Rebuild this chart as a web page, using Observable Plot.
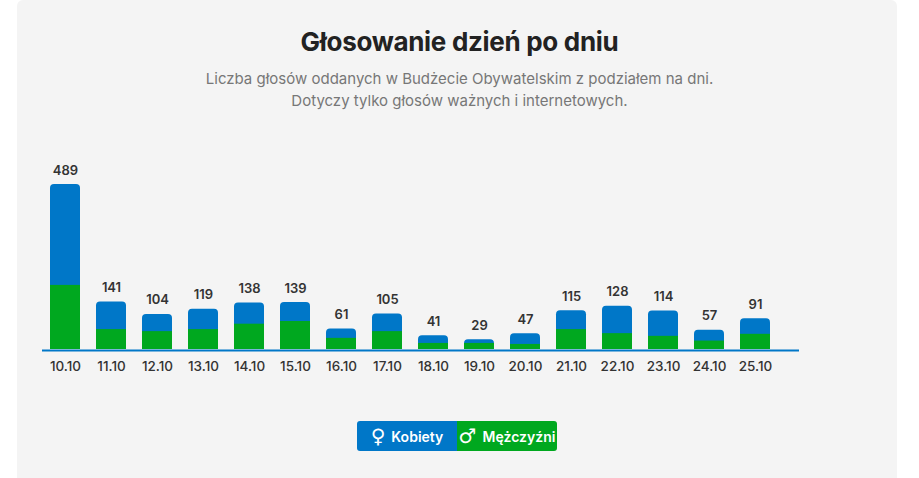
<!DOCTYPE html>
<html>
<head>
<meta charset="utf-8">
<script src="https://cdn.jsdelivr.net/npm/d3@7"></script>
<script src="https://cdn.jsdelivr.net/npm/@observablehq/plot@0.6"></script>
<style>
  html, body { margin: 0; padding: 0; background: #ffffff; }
  body { width: 919px; height: 478px; overflow: hidden; position: relative; font-family: Inter, "Noto Sans", sans-serif; }
  #panel { position: absolute; left: 17px; top: 0; width: 880px; height: 478px; background: #f4f4f4; border-radius: 6px 6px 0 0; }
  #title { position: absolute; left: 0; width: 919px; top: 26px; text-align: center; font-family: Inter, sans-serif; font-weight: 700; font-size: 26px; color: #222; letter-spacing: -0.3px; }
  #sub { position: absolute; left: 0; width: 919px; top: 68px; text-align: center; font-family: Inter, sans-serif; font-size: 15px; line-height: 22px; color: #777; }
  #chart { position: absolute; left: 0; top: 140px; }
  #legend { position: absolute; left: 357px; top: 421px; width: 200px; height: 30px; display: flex; border-radius: 3px; overflow: hidden; font-family: Inter, sans-serif; font-weight: 600; font-size: 14px; color: #fff; }
  #legend div { width: 100px; display: flex; align-items: center; justify-content: center; gap: 6px; }
  #legend .sym { font-family: "DejaVu Sans", sans-serif; font-size: 20px; font-weight: 400; line-height: 1; }
</style>
</head>
<body>
<div id="panel"></div>
<div id="title">Głosowanie dzień po dniu</div>
<div id="sub">Liczba głosów oddanych w Budżecie Obywatelskim z podziałem na dni.<br>Dotyczy tylko głosów ważnych i internetowych.</div>
<div id="chart"></div>
<div id="legend"></div>
<script>
const days = ["10.10","11.10","12.10","13.10","14.10","15.10","16.10","17.10","18.10","19.10","20.10","21.10","22.10","23.10","24.10","25.10"];
const totals = [489,141,104,119,138,139,61,105,41,29,47,115,128,114,57,91];
const men = [190,59,53,59,75,83,33,53,18,18,15,59,47,39,25,45];
const seriesNames = ["Kobiety","Mężczyźni"];
const seriesSymbols = ["♀","♂"];
const colors = ["#0077c8","#00a81f"];

const data = days.map((d, i) => ({day: d, total: totals[i], men: men[i], women: totals[i] - men[i]}));

const chart = Plot.plot({
  width: 919,
  height: 245,
  marginLeft: 42,
  marginRight: 120,
  marginTop: 44,
  marginBottom: 36,
  style: {background: "transparent", fontFamily: "Inter, sans-serif"},
  x: {domain: days, range: [42, 778], paddingInner: 0.348, paddingOuter: 0.174, label: null},
  y: {domain: [0, 489], axis: null},
  marks: [
    Plot.barY(data, {x: "day", y: "total", fill: colors[0], rx: 4}),
    Plot.barY(data, {x: "day", y: "men", fill: colors[1]}),
    Plot.ruleY([0], {stroke: colors[0], strokeWidth: 2, dy: 1}),
    Plot.text(data, {x: "day", y: "total", text: d => String(d.total), lineAnchor: "bottom", dy: -10, fontSize: 13, fontWeight: 600, fill: "#333"}),
    Plot.axisX({tickSize: 0, tickPadding: 12, fontSize: 13.5, fontWeight: 500, fill: "#333", label: null})
  ]
});
document.getElementById("chart").appendChild(chart);

const legend = document.getElementById("legend");
seriesNames.forEach((name, i) => {
  const el = document.createElement("div");
  el.style.background = colors[i];
  el.innerHTML = `<span class="sym">${seriesSymbols[i]}</span><span>${name}</span>`;
  legend.appendChild(el);
});
</script>
</body>
</html>
